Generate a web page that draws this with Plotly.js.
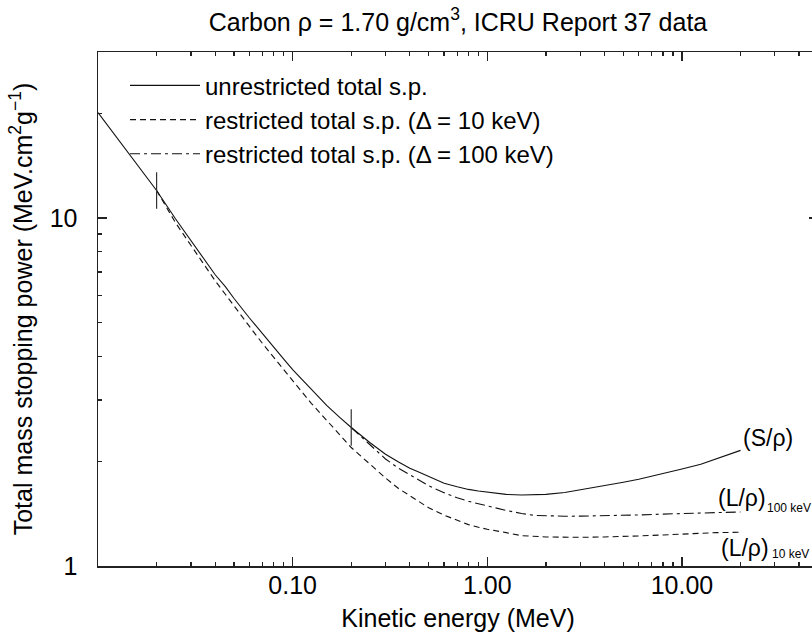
<!DOCTYPE html>
<html><head><meta charset="utf-8">
<script src="https://cdn.plot.ly/plotly-3.0.1.min.js"></script>
<style>html,body{margin:0;padding:0;overflow:hidden;background:#fff;width:812px;height:639px}</style>
</head><body><div id="chart"></div>
<script>
// Unrestricted total mass stopping power S/rho (MeV cm2/g), carbon
const energyS = [0.01, 0.0175, 0.02, 0.025, 0.03, 0.035, 0.04, 0.045, 0.05, 0.06, 0.07, 0.08, 0.09, 0.1, 0.125, 0.15, 0.175, 0.2, 0.25, 0.3, 0.35, 0.4, 0.45, 0.5, 0.6, 0.7, 0.8, 0.9, 1.0, 1.25, 1.5, 1.75, 2, 2.5, 3, 3.5, 4, 5, 6, 7, 8, 9, 10, 12.5, 15, 17.5, 20];
const totalS = [20.1, 13.3, 12.0, 9.95, 8.62, 7.62, 6.87, 6.36, 5.87, 5.16, 4.64, 4.23, 3.93, 3.67, 3.22, 2.89, 2.67, 2.50, 2.26, 2.095, 1.99, 1.91, 1.855, 1.805, 1.73, 1.69, 1.66, 1.643, 1.629, 1.606, 1.600, 1.601, 1.606, 1.627, 1.655, 1.678, 1.702, 1.741, 1.776, 1.811, 1.844, 1.872, 1.899, 1.961, 2.031, 2.094, 2.149];

// Restricted total s.p., Delta = 10 keV
const energyL10 = [0.02, 0.025, 0.03, 0.035, 0.04, 0.045, 0.05, 0.06, 0.07, 0.08, 0.09, 0.1, 0.125, 0.15, 0.175, 0.2, 0.25, 0.3, 0.35, 0.4, 0.45, 0.5, 0.6, 0.7, 0.8, 0.9, 1.0, 1.25, 1.5, 2, 2.5, 3, 4, 5, 6, 8, 10, 12.5, 15, 20];
const restrictedL10 = [12.0, 9.7, 8.35, 7.35, 6.6, 6.05, 5.58, 4.88, 4.36, 3.97, 3.66, 3.41, 2.93, 2.61, 2.38, 2.19, 1.96, 1.79, 1.67, 1.59, 1.53, 1.47, 1.40, 1.35, 1.315, 1.293, 1.275, 1.247, 1.222, 1.212, 1.209, 1.209, 1.212, 1.215, 1.22, 1.228, 1.236, 1.243, 1.247, 1.25];

// Restricted total s.p., Delta = 100 keV
const energyL100 = [0.2, 0.25, 0.3, 0.35, 0.4, 0.45, 0.5, 0.6, 0.7, 0.8, 0.9, 1.0, 1.25, 1.5, 1.75, 2, 2.5, 3, 4, 5, 6, 8, 10, 12.5, 15, 20];
const restrictedL100 = [2.50, 2.235, 2.03, 1.91, 1.83, 1.755, 1.70, 1.625, 1.57, 1.535, 1.507, 1.488, 1.445, 1.415, 1.398, 1.394, 1.390, 1.391, 1.394, 1.397, 1.402, 1.410, 1.416, 1.419, 1.424, 1.430];

// Vertical markers where the restricted curves start (E = 2*Delta)
const markEnergy = [0.02, 0.2];
const markValue = [12.0, 2.50];

const xTickVals = [0.1, 1, 10];
const xTickText = ['0.10', '1.00', '10.00'];
const xMinorVals = [0.02, 0.03, 0.04, 0.05, 0.06, 0.07, 0.08, 0.09, 0.2, 0.3, 0.4, 0.5, 0.6, 0.7, 0.8, 0.9, 2, 3, 4, 5, 6, 7, 8, 9, 20, 30, 40];
const yTickVals = [1, 10];
const yTickText = ['1', '10'];
const yMinorVals = [2, 3, 4, 5, 6, 7, 8, 9, 20, 30];

const FONT = 'Liberation Sans, Arial, Helvetica, sans-serif';
const INK = '#111';

const traces = [
  {x: energyS, y: totalS, mode: 'lines', name: 'unrestricted total s.p.',
   line: {color: INK, width: 1.1, dash: 'solid'}},
  {x: energyL10, y: restrictedL10, mode: 'lines', name: 'restricted total s.p. (\u0394 = 10 keV)',
   line: {color: INK, width: 1.1, dash: '6px,4px'}},
  {x: energyL100, y: restrictedL100, mode: 'lines', name: 'restricted total s.p. (\u0394 = 100 keV)',
   line: {color: INK, width: 1.1, dash: '10px,4px,3px,4px'}},
  {x: markEnergy, y: markValue, mode: 'markers', showlegend: false,
   marker: {symbol: 'line-ns-open', size: 26, color: '#333', line: {color: '#333', width: 1.2}}}
];

function axisBase(minorVals) {
  return {
    type: 'log', showgrid: false, zeroline: false,
    showline: true, linecolor: '#222', linewidth: 1.5, mirror: 'ticks',
    ticks: 'inside', ticklen: 9, tickwidth: 1.5, tickcolor: '#222',
    tickfont: {family: FONT, size: 25, color: '#000'},
    minor: {ticks: 'inside', ticklen: 4, tickwidth: 1.3, tickcolor: '#222',
            tickmode: 'array', tickvals: minorVals, showgrid: false}
  };
}

const layout = {
  width: 830, height: 639,
  margin: {l: 98, r: 12, t: 52, b: 73},
  paper_bgcolor: '#fff', plot_bgcolor: '#fff',
  font: {family: FONT, size: 25, color: '#000'},
  title: {text: 'Carbon \u03c1 = 1.70 g/cm<sup>3</sup>, ICRU Report 37 data',
          font: {family: FONT, size: 25, color: '#000'},
          x: 0.5, xref: 'paper', xanchor: 'center', y: 1 - 22/639, yref: 'container', yanchor: 'middle'},
  xaxis: Object.assign(axisBase(xMinorVals), {
    range: [-2, Math.log10(50)], tickmode: 'array', tickvals: xTickVals, ticktext: xTickText,
    ticklabelstandoff: -4,
    title: {text: 'Kinetic energy (MeV)', font: {family: FONT, size: 25, color: '#000'}, standoff: 12}
  }),
  yaxis: Object.assign(axisBase(yMinorVals), {
    range: [0, Math.log10(30)], tickmode: 'array', tickvals: yTickVals, ticktext: yTickText,
    ticklabelstandoff: 14,
    title: {text: 'Total mass stopping power (MeV.cm<sup>2</sup>g<sup>\u22121</sup>)', font: {family: FONT, size: 25, color: '#000'}, standoff: 10}
  }),
  showlegend: true,
  legend: {x: 0.0375, y: 0.978, xanchor: 'left', yanchor: 'top', bgcolor: 'rgba(0,0,0,0)',
           borderwidth: 0, itemwidth: 70, font: {family: FONT, size: 24, color: '#000'},
           tracegroupgap: 0},
  annotations: [
    {xref: 'paper', yref: 'paper', x: 0.9306, y: 0.249, text: '(S/\u03c1)', showarrow: false,
     font: {family: FONT, size: 23, color: '#000'}, xanchor: 'center', yanchor: 'middle'},
    {xref: 'paper', yref: 'paper', x: 0.8951, y: 0.1323, text: '(L/\u03c1)', showarrow: false,
     font: {family: FONT, size: 23, color: '#000'}, xanchor: 'center', yanchor: 'middle'},
    {xref: 'paper', yref: 'paper', x: 0.9604, y: 0.1128, text: '100 keV', showarrow: false,
     font: {family: FONT, size: 12, color: '#000'}, xanchor: 'center', yanchor: 'middle'},
    {xref: 'paper', yref: 'paper', x: 0.8993, y: 0.035, text: '(L/\u03c1)', showarrow: false,
     font: {family: FONT, size: 23, color: '#000'}, xanchor: 'center', yanchor: 'middle'},
    {xref: 'paper', yref: 'paper', x: 0.9618, y: 0.0233, text: '10 keV', showarrow: false,
     font: {family: FONT, size: 12, color: '#000'}, xanchor: 'center', yanchor: 'middle'}
  ]
};

Plotly.newPlot('chart', traces, layout, {displayModeBar: false, staticPlot: true});
</script>
</body></html>
